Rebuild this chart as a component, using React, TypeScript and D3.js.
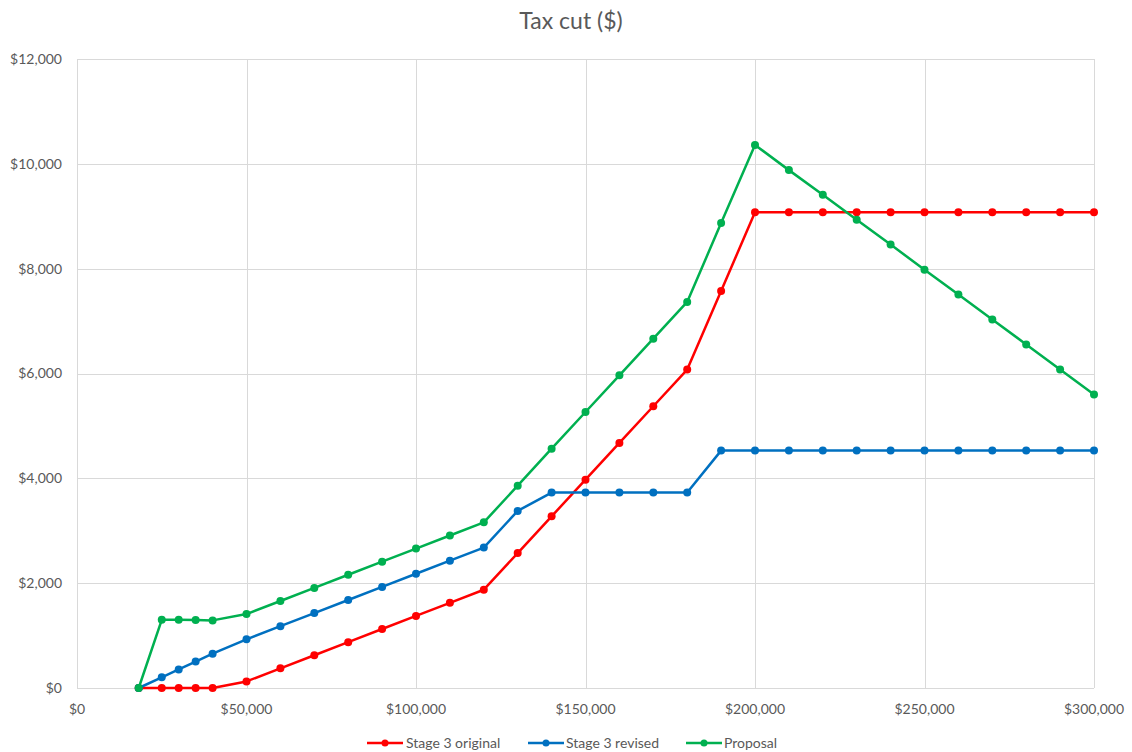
import React from "react";
import * as d3 from "d3";

// Taxable income points (A$)
const incomes = [
  18200, 25000, 30000, 35000, 40000, 50000, 60000, 70000, 80000, 90000, 100000,
  110000, 120000, 130000, 140000, 150000, 160000, 170000, 180000, 190000, 200000,
  210000, 220000, 230000, 240000, 250000, 260000, 270000, 280000, 290000, 300000,
];

// Tax cut in dollars for each income point
const stage3Original = [
  0, 0, 0, 0, 0, 125, 375, 625, 875, 1125, 1375,
  1625, 1875, 2575, 3275, 3975, 4675, 5375, 6075, 7575, 9075,
  9075, 9075, 9075, 9075, 9075, 9075, 9075, 9075, 9075, 9075,
];

const stage3Revised = [
  0, 204, 354, 504, 654, 929, 1179, 1429, 1679, 1929, 2179,
  2429, 2679, 3379, 3729, 3729, 3729, 3729, 3729, 4529, 4529,
  4529, 4529, 4529, 4529, 4529, 4529, 4529, 4529, 4529, 4529,
];

const proposal = [
  0, 1300, 1300, 1295, 1290, 1410, 1660, 1910, 2160, 2410, 2660,
  2910, 3160, 3860, 4565, 5265, 5965, 6665, 7365, 8870, 10360,
  9880, 9410, 8935, 8460, 7980, 7505, 7030, 6555, 6075, 5600,
];

const seriesNames = ["Stage 3 original", "Stage 3 revised", "Proposal"];
const seriesColors = ["#ff0000", "#0070c0", "#00b050"];

const xTicks = [0, 50000, 100000, 150000, 200000, 250000, 300000];
const yTicks = [0, 2000, 4000, 6000, 8000, 10000, 12000];

const W = 1132;
const H = 752;
const M = { left: 77, right: 1094, top: 59, bottom: 688 };
const FONT = "Lato, 'Open Sans', sans-serif";
const TEXT = "#595959";
const GRID = "#d9d9d9";

export default function App() {
  const x = d3.scaleLinear().domain([0, 300000]).range([M.left, M.right]);
  const y = d3.scaleLinear().domain([0, 12000]).range([M.bottom, M.top]);
  const fmt = (v: number) => "$" + d3.format(",")(v);

  const data = [stage3Original, stage3Revised, proposal];
  const line = d3
    .line<number>()
    .x((_, i) => x(incomes[i]))
    .y((d) => y(d));

  const legendItems = [
    { lineX: 367, textX: 406 },
    { lineX: 528, textX: 566 },
    { lineX: 686, textX: 724 },
  ];

  return (
    <svg
      width={W}
      height={H}
      style={{ position: "absolute", left: 0, top: 0, display: "block", background: "#fff" }}
      fontFamily={FONT}
    >
      <text x={571} y={29} textAnchor="middle" fontSize={23} fill={TEXT}>
        Tax cut ($)
      </text>

      {/* gridlines */}
      {yTicks.map((t) => (
        <line
          key={"gy" + t}
          x1={M.left}
          x2={M.right}
          y1={Math.round(y(t)) + 0.5}
          y2={Math.round(y(t)) + 0.5}
          stroke={GRID}
          strokeWidth={1}
        />
      ))}
      {xTicks.map((t) => (
        <line
          key={"gx" + t}
          y1={M.top}
          y2={M.bottom}
          x1={Math.round(x(t)) + 0.5}
          x2={Math.round(x(t)) + 0.5}
          stroke={GRID}
          strokeWidth={1}
        />
      ))}

      {/* tick labels */}
      {yTicks.map((t) => (
        <text
          key={"ly" + t}
          x={62}
          y={y(t)}
          dy="0.35em"
          textAnchor="end"
          fontSize={14}
          fill={TEXT}
        >
          {fmt(t)}
        </text>
      ))}
      {xTicks.map((t) => (
        <text
          key={"lx" + t}
          x={x(t)}
          y={709}
          dy="0.35em"
          textAnchor="middle"
          fontSize={14}
          fill={TEXT}
        >
          {fmt(t)}
        </text>
      ))}

      {/* series */}
      {data.map((vals, si) => (
        <g key={"s" + si}>
          <path
            d={line(vals) || ""}
            fill="none"
            stroke={seriesColors[si]}
            strokeWidth={2.5}
            strokeLinejoin="round"
          />
          {vals.map((v, i) => (
            <circle key={i} cx={x(incomes[i])} cy={y(v)} r={4} fill={seriesColors[si]} />
          ))}
        </g>
      ))}

      {/* legend */}
      {legendItems.map((it, i) => (
        <g key={"lg" + i}>
          <line
            x1={it.lineX}
            x2={it.lineX + 36}
            y1={743}
            y2={743}
            stroke={seriesColors[i]}
            strokeWidth={2.5}
          />
          <circle cx={it.lineX + 18} cy={743} r={3.5} fill={seriesColors[i]} />
          <text x={it.textX} y={743} dy="0.35em" fontSize={14} fill={TEXT}>
            {seriesNames[i]}
          </text>
        </g>
      ))}
    </svg>
  );
}
